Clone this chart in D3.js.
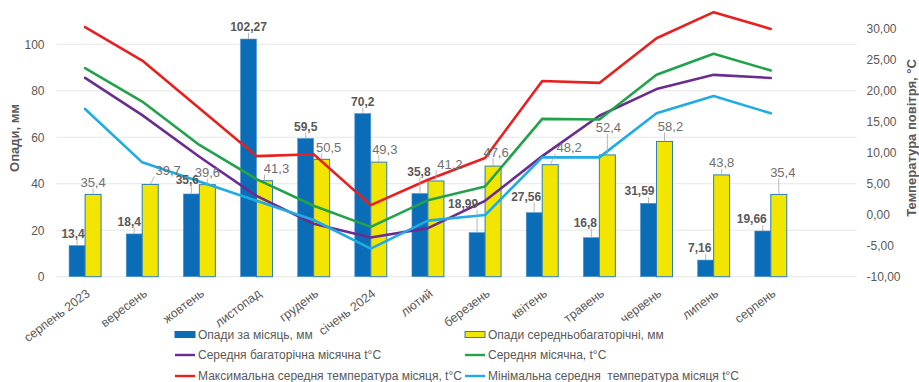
<!DOCTYPE html>
<html>
<head>
<meta charset="utf-8">
<script src="https://cdn.jsdelivr.net/npm/d3@7/dist/d3.min.js"></script>
<style>
  html, body { margin: 0; padding: 0; background: #fff; }
  svg { display: block; font-family: "Liberation Sans", Arial, sans-serif; }
  text { white-space: pre; }
</style>
</head>
<body>
<svg id="chart" width="919" height="382"></svg>
<script>
// Months of the observation period (Aug 2023 – Aug 2024)
const months = ["серпень 2023", "вересень", "жовтень", "листопад", "грудень", "січень 2024",
                "лютий", "березень", "квітень", "травень", "червень", "липень", "серпень"];

// Precipitation, mm
const precipMonth = [13.4, 18.4, 35.6, 102.27, 59.5, 70.2, 35.8, 18.99, 27.56, 16.8, 31.59, 7.16, 19.66];
const precipNorm  = [35.4, 39.7, 39.6, 41.3, 50.5, 49.3, 41.2, 47.6, 48.2, 52.4, 58.2, 43.8, 35.4];

// Air temperature, °C
const tempNorm = [22.0, 16.0, 9.3, 3.0, -1.5, -3.7, -2.2, 2.2, 9.4, 15.9, 20.2, 22.5, 22.0];
const tempMean = [23.6, 18.2, 11.2, 5.7, 1.4, -2.0, 2.3, 4.5, 15.4, 15.3, 22.5, 25.9, 23.2];
const tempMax  = [30.2, 24.8, 17.1, 9.4, 9.7, 1.5, 5.6, 9.1, 21.5, 21.2, 28.4, 32.6, 29.9];
const tempMin  = [17.0, 8.4, 5.3, 2.2, -0.9, -5.5, -1.0, -0.1, 9.2, 9.2, 16.3, 19.1, 16.3];

// Axis ticks
const precipTicks = [0, 20, 40, 60, 80, 100];
const tempTicks = [-10, -5, 0, 5, 10, 15, 20, 25, 30];

// Legend labels
const legendBars = ["Опади за місяць, мм", "Опади середньобагаторічні, мм"];
const legendLines = ["Середня багаторічна місячна t°C", "Середня місячна, t°C",
                     "Максимальна середня температура місяця, t°C", "Мінімальна середня  температура місяця t°C"];

// Manual nudges of data labels that would otherwise collide: [dx, dy] in px
const nudgeMonth = [[-4,0],[-5,0],[-4,-2],[0,0],[0,0],[0,0],[-1,-10],[-14,-17],[-8,-4],[-6,-3],[-9,0],[-6,0],[-11,0]];
const nudgeNorm  = [[0,0],[18,-2],[0,0],[12,0],[7,0],[6,-1],[14,-5],[3,-2],[19,-5],[1,-15],[6,-3],[0,0],[4,-10]];

const colors = {
  month: "#0B6DB7", norm: "#F2E500",
  tNorm: "#6A2C91", tMean: "#22A24A", tMax: "#E8201F", tMin: "#21ABE3",
  text: "#595959", grid: "#E6E6E6"
};

const svg = d3.select("#chart");
const plot = { left: 56.5, right: 856.5, top: 28.3, bottom: 276.7 };

// 14 slots across the plot area; the last one stays empty
const step = (plot.right - plot.left) / 14;
const x = d3.scaleBand().domain(months).range([plot.left, plot.left + step * months.length]).padding(0);
const cx = m => x(m) + x.bandwidth() / 2;

const yP = d3.scaleLinear().domain([0, 100]).range([276.7, 44.3]);
const yT = d3.scaleLinear().domain([-10, 30]).range([276.5, 28.3]);

// Gridlines from the precipitation axis
svg.append("g").selectAll("line").data(precipTicks).join("line")
  .attr("x1", plot.left).attr("x2", plot.right)
  .attr("y1", d => yP(d)).attr("y2", d => yP(d))
  .attr("stroke", colors.grid).attr("stroke-width", 1);

// Left axis
const leftAxis = svg.append("g").attr("transform", `translate(${plot.left},0)`)
  .call(d3.axisLeft(yP).tickValues(precipTicks).tickSize(0).tickPadding(12).tickFormat(d3.format("d")));
leftAxis.select(".domain").remove();
leftAxis.selectAll("text").attr("fill", colors.text).style("font-size", "12px")
  .style("font-family", "'Liberation Sans', Arial, sans-serif");

// Right axis
const fmtT = d => d3.format(".2f")(d).replace(".", ",").replace("−", "-");
const rightAxis = svg.append("g").attr("transform", `translate(${plot.right},0)`)
  .call(d3.axisRight(yT).tickValues(tempTicks).tickSize(0).tickPadding(10).tickFormat(fmtT));
rightAxis.select(".domain").remove();
rightAxis.selectAll("text").attr("fill", colors.text).style("font-size", "12px")
  .style("font-family", "'Liberation Sans', Arial, sans-serif");

// Category labels, rotated
svg.append("g").selectAll("text").data(months).join("text")
  .attr("transform", d => `translate(${cx(d) + 3},${plot.bottom + 15}) rotate(-37)`)
  .attr("text-anchor", "end").attr("dy", "0.35em")
  .attr("fill", colors.text).style("font-size", "12.5px")
  .text(d => d);

// Axis titles
svg.append("text")
  .attr("transform", `translate(14,138) rotate(-90)`)
  .attr("text-anchor", "middle").attr("dy", "0.35em")
  .attr("fill", colors.text).style("font-size", "13px").style("font-weight", "bold")
  .text("Опади, мм");
svg.append("text")
  .attr("transform", `translate(911,138) rotate(-90)`)
  .attr("text-anchor", "middle").attr("dy", "0.35em")
  .attr("fill", colors.text).style("font-size", "13px").style("font-weight", "bold")
  .text("Температура повітря, °C");

// Bars
const barW = 16;
svg.append("g").selectAll("rect").data(precipMonth).join("rect")
  .attr("x", (d, i) => cx(months[i]) - barW).attr("width", barW)
  .attr("y", d => yP(d)).attr("height", d => yP(0) - yP(d))
  .attr("fill", colors.month).attr("stroke", "#4C97D2").attr("stroke-width", 0.6);
svg.append("g").selectAll("rect").data(precipNorm).join("rect")
  .attr("x", (d, i) => cx(months[i])).attr("width", barW)
  .attr("y", d => yP(d)).attr("height", d => yP(0) - yP(d))
  .attr("fill", colors.norm).attr("stroke", "#2C7DC0").attr("stroke-width", 1);

// Temperature lines
const lineSeries = [
  { values: tempNorm, color: colors.tNorm },
  { values: tempMean, color: colors.tMean },
  { values: tempMax, color: colors.tMax },
  { values: tempMin, color: colors.tMin }
];
const line = d3.line().x((d, i) => cx(months[i])).y(d => yT(d));
svg.append("g").selectAll("path").data(lineSeries).join("path")
  .attr("d", s => line(s.values))
  .attr("fill", "none").attr("stroke", s => s.color).attr("stroke-width", 2.6)
  .attr("stroke-linejoin", "round").attr("stroke-linecap", "round");

// Data labels with leader lines where nudged away from the bar
const fmtV = v => String(v).replace(".", ",");
function addLabels(values, nudges, barCenter, opts) {
  const g = svg.append("g");
  values.forEach((v, i) => {
    const bx = barCenter(i), by = yP(v);
    const lx = bx + nudges[i][0], ly = by - 12 + nudges[i][1];
    const t = g.append("text")
      .attr("x", lx).attr("y", ly).attr("dy", "0.35em")
      .attr("text-anchor", "middle")
      .attr("fill", opts.color).style("font-size", opts.size).style("font-weight", opts.weight)
      .text(fmtV(v));
    const hw = t.node().getComputedTextLength() / 2 + 1, hh = 6;
    const px = Math.max(lx - hw, Math.min(lx + hw, bx));
    const py = Math.max(ly - hh, Math.min(ly + hh, by));
    if (Math.hypot(bx - px, by - py) > 5) {
      g.insert("line", ":first-child")
        .attr("x1", px).attr("y1", py).attr("x2", bx).attr("y2", by)
        .attr("stroke", "#A6A6A6").attr("stroke-width", 0.8);
    }
  });
}
addLabels(precipMonth, nudgeMonth, i => cx(months[i]) - barW / 2, { color: colors.text, weight: "bold", size: "12px" });
addLabels(precipNorm, nudgeNorm, i => cx(months[i]) + barW / 2, { color: "#707070", weight: "normal", size: "13px" });

// Legend
const legend = svg.append("g").style("font-size", "12px");
const legendItems = [
  { label: legendBars[0], type: "bar", fill: colors.month, stroke: colors.month, col: 0, row: 0 },
  { label: legendBars[1], type: "bar", fill: colors.norm, stroke: "#2C7DC0", col: 1, row: 0 },
  { label: legendLines[0], type: "line", stroke: colors.tNorm, col: 0, row: 1 },
  { label: legendLines[1], type: "line", stroke: colors.tMean, col: 1, row: 1 },
  { label: legendLines[2], type: "line", stroke: colors.tMax, col: 0, row: 2 },
  { label: legendLines[3], type: "line", stroke: colors.tMin, col: 1, row: 2 }
];
const colX = [175, 465], rowY = [334.5, 355, 376];
legendItems.forEach(it => {
  const gx = colX[it.col], gy = rowY[it.row];
  if (it.type === "bar") {
    legend.append("rect").attr("x", gx).attr("y", gy - 3).attr("width", 20).attr("height", 6)
      .attr("fill", it.fill).attr("stroke", it.stroke).attr("stroke-width", 1);
  } else {
    legend.append("line").attr("x1", gx).attr("x2", gx + 20).attr("y1", gy).attr("y2", gy)
      .attr("stroke", it.stroke).attr("stroke-width", 2.4);
  }
  legend.append("text").attr("x", gx + 23).attr("y", gy).attr("dy", "0.35em")
    .attr("fill", colors.text).text(it.label);
});
</script>
</body>
</html>
